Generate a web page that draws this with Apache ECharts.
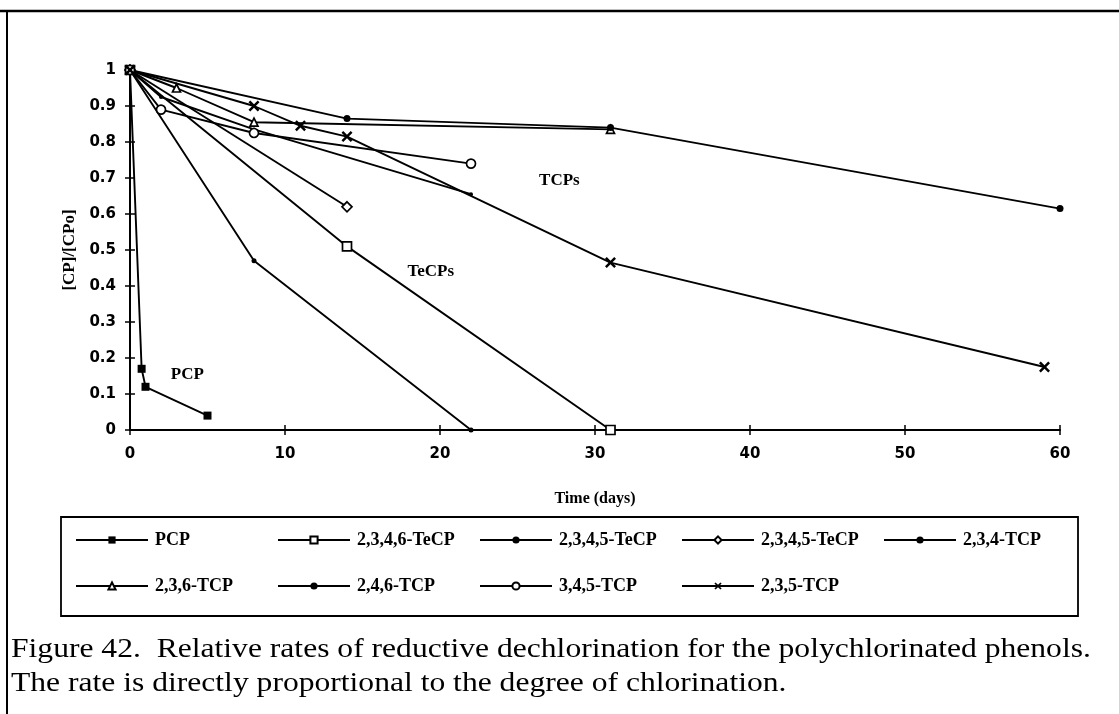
<!DOCTYPE html>
<html>
<head>
<meta charset="utf-8">
<script src="https://cdn.jsdelivr.net/npm/echarts@6/dist/echarts.min.js"></script>
<style>
html,body{margin:0;padding:0;background:#fff;}
#chart{width:1119px;height:714px;}
</style>
</head>
<body>
<div id="chart"></div>
<script>
// ---- data ----
const xTicks = [0, 10, 20, 30, 40, 50, 60];
const pcpX = [0, 0.75, 1, 5];
const pcpY = [1, 0.17, 0.12, 0.04];
const tecp2346X = [0, 14, 31];
const tecp2346Y = [1, 0.51, 0];
const tecp2345X = [0, 8, 22];
const tecp2345Y = [1, 0.47, 0];
const tecp2345bX = [0, 14];
const tecp2345bY = [1, 0.62];
const tcp234X = [0, 2, 8, 22];
const tcp234Y = [1, 0.925, 0.835, 0.655];
const tcp236X = [0, 3, 8, 31];
const tcp236Y = [1, 0.95, 0.855, 0.835];
const tcp246X = [0, 14, 31, 60];
const tcp246Y = [1, 0.865, 0.84, 0.615];
const tcp345X = [0, 2, 8, 22];
const tcp345Y = [1, 0.89, 0.825, 0.74];
const tcp235X = [0, 8, 11, 14, 31, 59];
const tcp235Y = [1, 0.9, 0.845, 0.815, 0.465, 0.175];
const annotationText = ['PCP', 'TeCPs', 'TCPs'];
const annotationX = [3.7, 19.4, 27.7];
const annotationY = [0.153, 0.44, 0.694];
const legendRow1 = ['PCP', '2,3,4,6-TeCP', '2,3,4,5-TeCP', '2,3,4,5-TeCP ', '2,3,4-TCP'];
const legendRow2 = ['2,3,6-TCP', '2,4,6-TCP', '3,4,5-TCP', '2,3,5-TCP'];
const captionLines = [
  'Figure 42.  Relative rates of reductive dechlorination for the polychlorinated phenols.',
  'The rate is directly proportional to the degree of chlorination.'
];

// ---- helpers ----
const zip = (xs, ys) => xs.map((x, i) => [x, ys[i]]);
const crossPath = 'path://M0,1.6L1.6,0L5,3.4L8.4,0L10,1.6L6.6,5L10,8.4L8.4,10L5,6.6L1.6,10L0,8.4L3.4,5Z';
const serif = '"Liberation Serif", "DejaVu Serif", serif';
const sans = '"DejaVu Sans", "Liberation Sans", sans-serif';

function lineSeries(name, xs, ys, symbol, size, hollow) {
  return {
    type: 'line', name: name, data: zip(xs, ys),
    symbol: symbol, symbolSize: size, showSymbol: true,
    lineStyle: { color: '#000', width: 1.9 },
    itemStyle: hollow ? { color: '#fff', borderColor: '#000', borderWidth: 1.7 }
                      : { color: '#000', borderColor: '#000', borderWidth: 0 },
    emphasis: { disabled: true }, z: 3
  };
}

const series = [
  lineSeries('PCP', pcpX, pcpY, 'rect', 8, false),
  lineSeries('2,3,4,6-TeCP', tecp2346X, tecp2346Y, 'rect', 9, true),
  lineSeries('2,3,4,5-TeCP', tecp2345X, tecp2345Y, 'circle', 5, false),
  lineSeries('2,3,4,5-TeCP ', tecp2345bX, tecp2345bY, 'diamond', 10, true),
  lineSeries('2,3,4-TCP', tcp234X, tcp234Y, 'circle', 4, false),
  lineSeries('2,3,6-TCP', tcp236X, tcp236Y, 'triangle', 8, true),
  lineSeries('2,4,6-TCP', tcp246X, tcp246Y, 'circle', 7, false),
  lineSeries('3,4,5-TCP', tcp345X, tcp345Y, 'circle', 9, true),
  lineSeries('2,3,5-TCP', tcp235X, tcp235Y, crossPath, 11, false),
  {
    type: 'scatter', name: 'annotations', symbolSize: 0,
    itemStyle: { opacity: 1, color: '#000' },
    data: annotationText.map((t, i) => ({ value: [annotationX[i], annotationY[i]], name: t })),
    label: { show: true, position: 'inside', formatter: p => p.name, opacity: 1,
             fontFamily: serif, fontWeight: 'bold', fontSize: 17, color: '#000' },
    emphasis: { disabled: true }, silent: true, z: 4
  }
];

const legendPitch = 202, legendLeft0 = 75;
const legendCommon = {
  orient: 'horizontal', padding: 0, itemWidth: 72, itemHeight: 9, itemGap: 0,
  textStyle: { fontFamily: serif, fontWeight: 'bold', fontSize: 18, color: '#000', padding: [0, 0, 0, 2] },
  selectedMode: false, inactiveColor: '#000'
};
const legends = [];
legendRow1.forEach((n, i) => legends.push(Object.assign({}, legendCommon, { data: [n], left: legendLeft0 + i * legendPitch, top: 531 })));
legendRow2.forEach((n, i) => legends.push(Object.assign({}, legendCommon, { data: [n], left: legendLeft0 + i * legendPitch, top: 577 })));

const tickOnly = (extra) => Object.assign({
  type: 'value', axisLine: { show: false }, axisLabel: { show: false }, splitLine: { show: false },
  axisTick: { show: true, inside: true, length: 5, lineStyle: { color: '#000', width: 1.5 } }
}, extra);

const chart = echarts.init(document.getElementById('chart'), null, { renderer: 'canvas' });
chart.setOption({
  animation: false,
  backgroundColor: '#fff',
  grid: { left: 130, right: 59, top: 70, bottom: 284, containLabel: false },
  xAxis: [{
    type: 'value', min: xTicks[0], max: xTicks[xTicks.length - 1], interval: 10, position: 'bottom',
    name: 'Time (days)', nameLocation: 'middle', nameGap: 61,
    nameTextStyle: { fontFamily: serif, fontWeight: 'bold', fontSize: 16, color: '#000' },
    axisLine: { show: true, onZero: false, lineStyle: { color: '#000', width: 2 } },
    axisTick: { show: true, length: 5, lineStyle: { color: '#000', width: 1.5 } },
    axisLabel: { margin: 17, fontFamily: sans, fontWeight: 'bold', fontSize: 15, color: '#000' },
    splitLine: { show: false }
  }, tickOnly({ min: xTicks[0], max: xTicks[xTicks.length - 1], interval: 10, position: 'bottom' })],
  yAxis: [{
    type: 'value', min: 0, max: 1, interval: 0.1, position: 'left',
    name: '[CP]/[CPo]', nameLocation: 'middle', nameGap: 52, nameRotate: 90,
    nameTextStyle: { fontFamily: serif, fontWeight: 'bold', fontSize: 17, color: '#000' },
    axisLine: { show: true, onZero: false, lineStyle: { color: '#000', width: 2 } },
    axisTick: { show: true, length: 5, lineStyle: { color: '#000', width: 1.5 } },
    axisLabel: { margin: 14, fontFamily: sans, fontWeight: 'bold', fontSize: 15, color: '#000',
                 formatter: v => String(Math.round(v * 10) / 10) },
    splitLine: { show: false }
  }, tickOnly({ min: 0, max: 1, interval: 0.1, position: 'left' })],
  legend: legends,
  series: series,
  graphic: [
    { type: 'line', shape: { x1: 0, y1: 11, x2: 1119, y2: 11 }, style: { stroke: '#000', lineWidth: 2.5 }, silent: true },
    { type: 'line', shape: { x1: 7, y1: 11, x2: 7, y2: 714 }, style: { stroke: '#000', lineWidth: 2 }, silent: true },
    { type: 'rect', shape: { x: 61, y: 517, width: 1017, height: 99 }, style: { fill: 'none', stroke: '#000', lineWidth: 1.8 }, silent: true, z: -1 },
    { type: 'text', x: 11, y: 636, scaleX: 1.17, originX: 0, style: { text: captionLines[0], fontFamily: serif, fontSize: 27, fill: '#000' }, silent: true },
    { type: 'text', x: 11, y: 670, scaleX: 1.17, originX: 0, style: { text: captionLines[1], fontFamily: serif, fontSize: 27, fill: '#000' }, silent: true }
  ]
});
</script>
</body>
</html>
